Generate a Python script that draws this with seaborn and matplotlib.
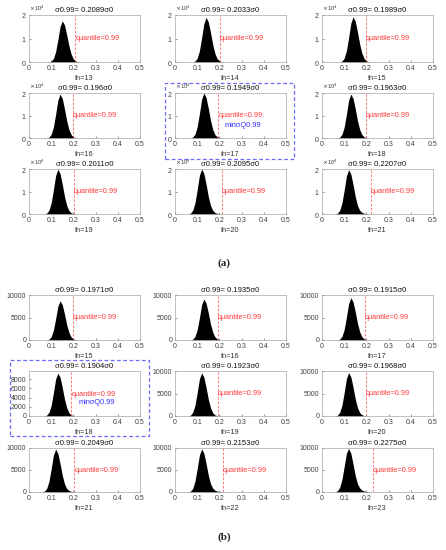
import seaborn as sns
import matplotlib.pyplot as plt
from matplotlib.patches import Rectangle
from matplotlib.ticker import ScalarFormatter
import numpy as np

# histogram bin centres shared by every panel
bin_centers = [0.05, 0.06, 0.07, 0.08, 0.09, 0.10, 0.11, 0.12, 0.13, 0.14, 0.15,
               0.16, 0.17, 0.18, 0.19, 0.20, 0.21, 0.22, 0.23, 0.24, 0.25]

# figure (a)
fn_a = [13, 14, 15, 16, 17, 18, 19, 20, 21]
sigma_a = ["0.2089", "0.2033", "0.1989", "0.196", "0.1949", "0.1963", "0.2011", "0.2095", "0.2207"]
counts_a = [
    [0, 0, 0, 0, 0, 350, 1490, 4380, 9450, 15050, 17500, 15750, 11550, 6830, 3330, 1330, 420, 105, 0, 0, 0],
    [0, 0, 0, 0, 380, 1620, 4750, 10260, 16340, 19000, 17100, 12540, 7410, 3610, 1440, 460, 115, 0, 0, 0, 0],
    [0, 0, 0, 0, 380, 1630, 4800, 10370, 16510, 19200, 17280, 12670, 7490, 3650, 1460, 460, 115, 0, 0, 0, 0],
    [0, 0, 0, 0, 390, 1660, 4880, 10530, 16770, 19500, 17550, 12870, 7610, 3710, 1480, 470, 120, 0, 0, 0, 0],
    [0, 0, 0, 400, 1700, 5000, 10800, 17200, 20000, 18000, 13200, 7800, 3800, 1520, 480, 120, 0, 0, 0, 0, 0],
    [0, 0, 0, 390, 1660, 4880, 10530, 16770, 19500, 17550, 12870, 7610, 3710, 1480, 470, 120, 0, 0, 0, 0, 0],
    [0, 0, 0, 400, 1690, 4980, 10750, 17110, 19900, 17910, 13130, 7760, 3780, 1510, 480, 120, 0, 0, 0, 0, 0],
    [0, 0, 400, 1700, 5000, 10800, 17200, 20000, 18000, 13200, 7800, 3800, 1600, 650, 280, 110, 40, 0, 0, 0, 0],
    [0, 0, 390, 1670, 4930, 10640, 16940, 19700, 17730, 13000, 7680, 3740, 1600, 700, 330, 150, 70, 30, 0, 0, 0],
]

# figure (b)
fn_b = [15, 16, 17, 18, 19, 20, 21, 22, 23]
sigma_b = ["0.1971", "0.1935", "0.1915", "0.1904", "0.1923", "0.1968", "0.2049", "0.2153", "0.2275"]
counts_b = [
    [0, 0, 0, 0, 170, 740, 2180, 4700, 7480, 8700, 7830, 5740, 3390, 1650, 660, 210, 50, 0, 0, 0, 0],
    [0, 0, 0, 180, 770, 2280, 4910, 7830, 9100, 8190, 6010, 3550, 1730, 690, 220, 55, 0, 0, 0, 0, 0],
    [0, 0, 0, 190, 800, 2350, 5080, 8080, 9400, 8460, 6200, 3670, 1790, 710, 230, 56, 0, 0, 0, 0, 0],
    [0, 0, 0, 190, 790, 2330, 5020, 8000, 9250, 8370, 6140, 3630, 1770, 710, 220, 56, 0, 0, 0, 0, 0],
    [0, 0, 190, 820, 2400, 5180, 8260, 9600, 8640, 6340, 3740, 1820, 730, 230, 58, 0, 0, 0, 0, 0, 0],
    [0, 0, 190, 820, 2410, 5210, 8300, 9650, 8690, 6370, 3760, 1830, 760, 280, 90, 30, 0, 0, 0, 0, 0],
    [0, 0, 195, 830, 2440, 5270, 8390, 9750, 8780, 6440, 3800, 1850, 800, 340, 140, 55, 20, 0, 0, 0, 0],
    [0, 0, 200, 830, 2450, 5290, 8430, 9800, 8820, 6470, 3820, 1900, 880, 400, 190, 90, 40, 15, 0, 0, 0],
    [0, 50, 300, 1100, 2900, 5800, 8800, 9900, 8800, 6300, 3700, 1850, 900, 450, 220, 110, 55, 25, 10, 0, 0],
]

xtick_vals = [0, 0.1, 0.2, 0.3, 0.4, 0.5]
xtick_labels = ["0", "0.1", "0.2", "0.3", "0.4", "0.5"]

sns.set_style("white")
plt.rcParams['font.family'] = ['Liberation Sans', 'DejaVu Sans']

W, H = 446, 550
fig = plt.figure(figsize=(W / 100, H / 100), dpi=100)

col_x = [29, 175, 322]
ax_w = 111
rows_a = [(15, 62), (93, 138), (169, 214)]
rows_b = [(295, 340), (371, 416), (448, 492)]

frame_col = "#a6a6a6"
tick_col = "#404040"
red = "#ff3b3b"
blue = "#2f2fff"


def make_ax(px, top, bottom):
    return fig.add_axes([px / W, 1 - bottom / H, ax_w / W, (bottom - top) / H])


def draw_panel(ax, counts, sigma, fn, ymax, yticks, sci, highlight, ytext, yblue):
    edges = [c - 0.005 for c in bin_centers] + [bin_centers[-1] + 0.005]
    sns.histplot(x=bin_centers, weights=counts, bins=edges, element="poly",
                 fill=True, color="black", alpha=1, linewidth=0, ax=ax)
    q = float(sigma)
    ax.axvline(q, color=red, ls=(0, (3, 2)), lw=0.6, alpha=0.8)
    ax.text(q, ytext, "quantile=0.99", color=red, fontsize=5.3, ha="left", va="center")
    if highlight:
        ax.text(0.225, yblue, "minσQ0.99", color=blue, fontsize=5.3, ha="left", va="center")
    ax.set_xlim(0, 0.5)
    ax.set_ylim(0, ymax)
    ax.set_xticks(xtick_vals)
    ax.set_xticklabels(xtick_labels)
    ax.set_yticks(yticks)
    if sci:
        fmt = ScalarFormatter(useMathText=True)
        fmt.set_powerlimits((0, 0))
        ax.yaxis.set_major_formatter(fmt)
        ot = ax.yaxis.get_offset_text()
        ot.set_fontsize(4.3)
        ot.set_color("#707070")
    ax.set_ylabel("")
    ax.set_xlabel("fn=%d" % fn, fontsize=5.3, color="#333333", labelpad=2)
    ax.set_title("σ0.99= %sσ0" % sigma, fontsize=5.5, color="#111111", pad=2)
    ax.tick_params(labelsize=5, colors=tick_col, direction="in", length=1.5, width=0.4,
                   pad=2, top=False, right=False, left=True, bottom=True)
    for s in ax.spines.values():
        s.set_color(frame_col)
        s.set_linewidth(0.5)


for i in range(9):
    r, c = divmod(i, 3)
    ax = make_ax(col_x[c], *rows_a[r])
    draw_panel(ax, counts_a[i], sigma_a[i], fn_a[i], 20000, [0, 10000, 20000], True,
               fn_a[i] == 17, 9970 if fn_a[i] == 17 else 10000, 5700)

for i in range(9):
    r, c = divmod(i, 3)
    ax = make_ax(col_x[c], *rows_b[r])
    if fn_b[i] == 18:
        draw_panel(ax, counts_b[i], sigma_b[i], fn_b[i], 9730, [0, 2000, 4000, 6000, 8000],
                   False, True, 4750, 3000)
    else:
        draw_panel(ax, counts_b[i], sigma_b[i], fn_b[i], 10000, [0, 5000, 10000],
                   False, False, 5000, 0)

# dashed boxes around the selected panels
for x0, y0, x1, y1 in [(165, 83, 294, 159), (10, 360, 149, 436)]:
    fig.patches.append(Rectangle((x0 / W, 1 - y1 / H), (x1 - x0) / W, (y1 - y0) / H,
                                 transform=fig.transFigure, fill=False, ec="#6b6bff",
                                 ls=(0, (3, 2)), lw=0.9))

fig.text(224 / W, 1 - 263 / H, "(a)", fontsize=8, fontweight="bold",
         family=["Liberation Serif", "DejaVu Serif"], ha="center", va="center")
fig.text(224 / W, 1 - 537 / H, "(b)", fontsize=8, fontweight="bold",
         family=["Liberation Serif", "DejaVu Serif"], ha="center", va="center")

fig.savefig("out.png", dpi=100)
